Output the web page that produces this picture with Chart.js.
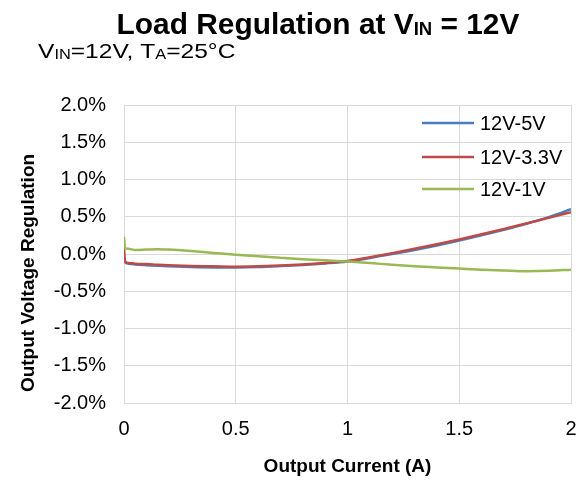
<!DOCTYPE html>
<html><head><meta charset="utf-8">
<script src="https://cdn.jsdelivr.net/npm/chart.js@4.4.0/dist/chart.umd.min.js"></script>
<style>html,body{margin:0;padding:0;background:#fff;overflow:hidden}canvas{display:block}</style>
</head><body>
<canvas id="c" width="585" height="481"></canvas>
<script>
const current = [0, 0.005, 0.02, 0.05, 0.1, 0.15, 0.2, 0.3, 0.4, 0.5, 0.6, 0.7, 0.8, 0.9, 1.0, 1.1, 1.2, 1.3, 1.4, 1.5, 1.6, 1.7, 1.8, 1.9, 2.0];
const reg5V  = [-0.05, -0.11, -0.13, -0.14, -0.15, -0.158, -0.165, -0.175, -0.18, -0.18, -0.175, -0.162, -0.146, -0.126, -0.10, -0.055, 0.0, 0.055, 0.115, 0.18, 0.25, 0.325, 0.405, 0.495, 0.60];
const reg3V3 = [0.08, -0.10, -0.12, -0.13, -0.135, -0.143, -0.15, -0.16, -0.165, -0.17, -0.165, -0.155, -0.14, -0.12, -0.095, -0.045, 0.01, 0.07, 0.13, 0.195, 0.265, 0.335, 0.41, 0.485, 0.56];
const reg1V  = [0.23, 0.08, 0.07, 0.055, 0.06, 0.065, 0.06, 0.04, 0.015, -0.01, -0.03, -0.05, -0.07, -0.085, -0.10, -0.12, -0.145, -0.165, -0.18, -0.195, -0.21, -0.22, -0.23, -0.225, -0.21];
const seriesNames = ['12V-5V', '12V-3.3V', '12V-1V'];
const seriesColors = ['#4a7ebb', '#be4b48', '#98b954'];
const xTicks = [0, 0.5, 1, 1.5, 2];
const yTicks = [-2.0, -1.5, -1.0, -0.5, 0.0, 0.5, 1.0, 1.5, 2.0];

const FONT = '"Liberation Sans", Arial, sans-serif';
const series = [reg5V, reg3V3, reg1V];

function drawRich(ctx, parts, x, y, align, sx) {
  sx = sx || 1;
  let w = 0;
  parts.forEach(p => { ctx.font = (p.bold ? 'bold ' : '') + p.size + 'px ' + FONT; p.w = ctx.measureText(p.t).width; w += p.w; });
  const start = align === 'center' ? x - (w * sx) / 2 : x;
  ctx.save();
  ctx.translate(start, y);
  ctx.scale(sx, 1);
  ctx.textAlign = 'left';
  ctx.textBaseline = 'alphabetic';
  let cx = 0;
  parts.forEach(p => { ctx.font = (p.bold ? 'bold ' : '') + p.size + 'px ' + FONT; ctx.fillText(p.t, cx, p.dy || 0); cx += p.w; });
  ctx.restore();
}

const textPlugin = {
  id: 'texts',
  afterDraw(chart) {
    const ctx = chart.ctx;
    const ca = chart.chartArea;
    ctx.save();
    ctx.fillStyle = '#000';
    // title
    drawRich(ctx, [
      {t: 'Load Regulation at V', size: 29, bold: true},
      {t: 'IN', size: 18, bold: true, dy: 1},
      {t: ' = 12V', size: 29, bold: true}
    ], 318, 34, 'center', 1.03);
    // subtitle
    drawRich(ctx, [
      {t: 'V', size: 21}, {t: 'IN', size: 14, dy: 1},
      {t: '=12V, T', size: 21}, {t: 'A', size: 14, dy: 1},
      {t: '=25°C', size: 21}
    ], 38, 58, 'left', 1.17);
    // x axis title
    ctx.font = 'bold 19px ' + FONT;
    ctx.textAlign = 'center';
    ctx.textBaseline = 'alphabetic';
    ctx.fillText('Output Current (A)', (ca.left + ca.right) / 2, 472);
    // y axis title
    ctx.save();
    ctx.translate(34, 273);
    ctx.rotate(-Math.PI / 2);
    ctx.fillText('Output Voltage Regulation', 0, 0);
    ctx.restore();
    // legend
    const rows = [123, 157, 189];
    ctx.font = '20px ' + FONT;
    ctx.textAlign = 'left';
    ctx.textBaseline = 'middle';
    seriesNames.forEach((n, i) => {
      ctx.strokeStyle = seriesColors[i];
      ctx.lineWidth = 2.5;
      ctx.beginPath();
      ctx.moveTo(422, rows[i]);
      ctx.lineTo(474, rows[i]);
      ctx.stroke();
      ctx.fillStyle = '#000';
      ctx.fillText(n, 480, rows[i] + 1);
    });
    ctx.restore();
  }
};

const datasets = series.map((s, i) => ({
  label: seriesNames[i],
  data: current.map((x, j) => ({x: x, y: s[j]})),
  borderColor: seriesColors[i],
  backgroundColor: seriesColors[i],
  borderWidth: 2.5,
  pointRadius: 0,
  fill: false,
  cubicInterpolationMode: 'monotone',
  order: 2 - i
}));

new Chart(document.getElementById('c'), {
  type: 'line',
  data: {datasets},
  plugins: [textPlugin],
  options: {
    responsive: false,
    animation: false,
    devicePixelRatio: 1,
    layout: {padding: {left: 0, right: 14, top: 105, bottom: 0}},
    plugins: {legend: {display: false}, tooltip: {enabled: false}, title: {display: false}},
    scales: {
      x: {
        type: 'linear', min: 0, max: 2,
        afterBuildTicks: s => { s.ticks = xTicks.map(v => ({value: v})); },
        afterFit: s => { s.height = 78; s.paddingLeft = 0; s.paddingRight = 0; },
        ticks: {color: '#000', font: {family: FONT, size: 20}, padding: 14, maxRotation: 0, callback: v => String(v)},
        grid: {color: '#d9d9d9', lineWidth: 1, drawTicks: false},
        border: {color: '#d9d9d9', width: 1}
      },
      y: {
        type: 'linear', min: -2, max: 2,
        afterBuildTicks: s => { s.ticks = yTicks.map(v => ({value: v})); },
        afterFit: s => { s.width = 124; s.paddingTop = 0; s.paddingBottom = 0; },
        ticks: {color: '#000', font: {family: FONT, size: 20}, padding: 18, callback: v => v.toFixed(1) + '%'},
        grid: {color: '#d9d9d9', lineWidth: 1, drawTicks: false},
        border: {color: '#d9d9d9', width: 1}
      }
    }
  }
});
</script>
</body></html>
